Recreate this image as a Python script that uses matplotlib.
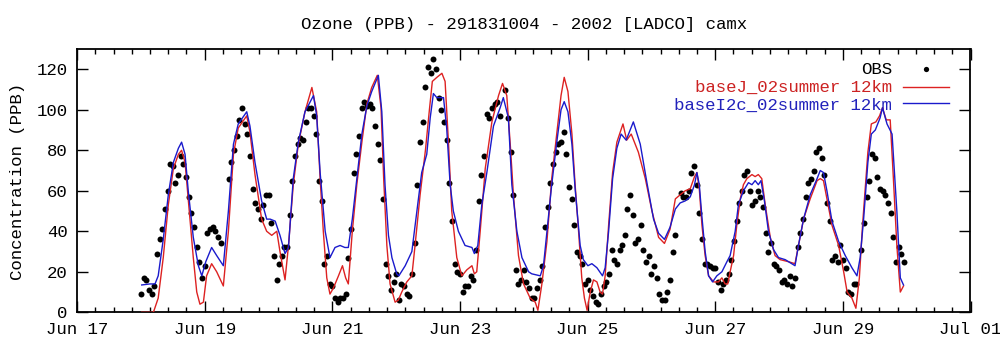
import numpy as np
import matplotlib
matplotlib.use("Agg")
import matplotlib.pyplot as plt
import matplotlib.dates as mdates
from matplotlib.ticker import FixedLocator
from datetime import datetime

title = "Ozone (PPB) - 291831004 - 2002 [LADCO] camx"
ylabel = "Concentration (PPB)"
series_names = ["OBS", "baseJ_02summer 12km", "baseI2c_02summer 12km"]
series_colors = ["#000000", "#dd2222", "#1a1acc"]
start = datetime(2002, 6, 18)          # first hour of data
x_range = (datetime(2002, 6, 17), datetime(2002, 7, 1))
y_ticks = [0, 20, 40, 60, 80, 100, 120]

N = None
# hourly observations from Jun 18 00:00 (None = missing)
obs_ppb = [
    9, 17, 16, 11, 9, 13, 29, 36, 41, 51, 60, 73, 72, 64, 68, 77, 73, 67, 57, 49, 42, 32, 25, 17,
    23, 39, 41, 42, 40, 37, 34, N, N, 66, 74, 80, 87, 95, 101, 93, 88, 77, 61, 54, 51, 46, 53, 58,
    58, 44, 28, 16, 24, 28, 32, 32, 48, 65, 77, 83, 86, 85, 94, 101, 101, 97, 88, 65, 55, 24, 28, 14,
    13, 7, 5, 7, 7, 9, 27, 41, 69, 78, 87, 101, 104, 102, 103, 101, 92, 83, 75, 56, 24, 18, 11, 15,
    19, 6, 14, 13, 9, 8, 19, 34, 63, 84, 94, 111, 121, 118, 125, 120, 106, 100, 94, 85, 64, 45, 24, 20,
    19, 10, 13, 13, 18, 16, 31, 55, 68, 77, 98, 96, 101, 103, 104, 97, N, 110, 96, 79, 58, 21, 14, 16,
    21, 15, 12, 7, 7, 12, 16, 23, 42, 52, 64, 73, 79, 83, 84, 89, 78, 62, 56, 43, 30, 28, 24, 14,
    16, 11, 8, 5, 4, 9, 13, 15, 19, 31, 26, 24, 31, 33, 38, 51, 58, 48, 34, 36, 43, 31, 25, 28,
    19, 23, 17, 9, 6, 6, 10, 16, 30, 38, N, 59, 57, 57, 60, 69, 72, 63, 49, 36, 24, 24, 23, 22,
    22, 15, 11, 14, 16, 19, 26, 35, 45, 54, 60, 68, 70, 60, 53, 55, 60, 57, 52, 39, 30, 34, 24, 23,
    21, 15, 16, 14, 18, 13, 17, 32, 39, 46, 57, 64, 66, 70, 79, 81, 76, 68, 54, 45, 26, 28, 25, 33,
    26, 22, 10, 9, 14, 14, N, 31, 44, 57, 65, 78, 76, 67, 61, 60, 58, 54, 49, 37, 25, 32, 29, 25,
]

# baseJ_02summer 12km : hours after Jun 18 00:00 and values
red_hours = [0.3, 4.7, 6.5, 8.4, 10.3, 12.2, 14.1, 15.3, 16.6, 17.8, 19.7, 21, 22.2, 23.5, 24.7, 26.6,
             28.5, 31, 32.9, 34.8, 36.6, 39.8, 41, 42.9, 45.4, 47.3, 49.2, 51.1, 52.3, 54.2, 55.5, 57.3,
             59.2, 61.7, 64.3, 66.1, 67.4, 68.6, 69.9, 71.1, 72.4, 74.3, 75.8, 77, 78, 79.5, 81.2, 83.1,
             85, 86.8, 88.9, 90.3, 91.3, 92.5, 93.7, 95.6, 96.8, 98.1, 100, 101.9, 103.1, 105, 107, 108.5,
             109.6, 111.3, 113.2, 114.4, 115.7, 116.9, 118.8, 120.7, 122.6, 124.5, 125.4, 126.3, 127.6,
             129.5, 132, 134.5, 136, 137.6, 138.9, 140.1, 142, 143.9, 146.4, 148.3, 149.3, 150.8, 152.7,
             154.5, 156.4, 158, 159.2, 160.6, 162.1, 163.3, 164.6, 165.8, 166.8, 167.8, 169, 170.2, 171.5,
             172.7, 173.6, 174.6, 175.9, 177.4, 179, 181.3, 182.7, 184.4, 187.1, 189.7, 192.2, 194.7,
             196.9, 199, 201, 202.8, 204.7, 206.6, 208.2, 209.1, 210, 211, 212.2, 213.5, 215.4, 217.2,
             218.5, 219.7, 220.7, 221.6, 222.9, 224.1, 225.4, 226.6, 227.9, 229.8, 231, 232.2, 233.5,
             234.8, 236.7, 238.5, 240.4, 243.5, 246, 247.3, 249.2, 251.7, 254.3, 255.5, 256.7, 258,
             259.9, 262.4, 264.3, 265.6, 267.4, 268.9, 270.2, 271.4, 273.4, 274.7, 276.4, 277.8, 278.9,
             280.3, 281.8, 283, 284.3, 285.6, 286.8]
red_ppb = [0, 0, 7, 27, 53, 71, 78, 80, 74, 56, 27, 10, 4, 5, 18, 24,
           20, 13, 40, 78, 91, 97, 89, 68, 46, 40, 38, 40, 30, 16, 33, 63,
           83, 99, 111, 99, 66, 40, 17, 9, 12, 18, 23, 17, 14, 40, 63, 84,
           103, 111, 117, 101, 66, 33, 14, 5, 6, 10, 15, 18, 33, 58, 80, 100,
           114, 116, 118, 114, 83, 50, 27, 18, 21, 23, 19, 20, 40,
           71, 94, 107, 113, 107, 83, 58, 28, 14, 7, 5, 1, 14, 35,
           66, 88, 107, 116, 109, 88, 63, 40, 17, 7, 1, 10, 16, 15,
           10, 9, 18, 43, 69, 84, 93, 85, 88, 79, 66, 50, 37,
           34, 41, 56, 58, 60, 61, 67, 69, 61, 43, 28, 18, 15, 15,
           17, 14, 14, 20, 28, 43, 56, 63, 66, 68, 67, 68, 66,
           53, 37, 28, 26, 25, 24, 33, 46, 56, 65, 66, 65, 56,
           43, 33, 20, 10, 7, 2, 17, 43, 79, 93, 94, 97, 101,
           95, 95, 66, 33, 10, 13]

# baseI2c_02summer 12km : hours after Jun 18 00:00 and values
blue_hours = [0.3, 3.4, 5.3, 6.5, 8.4, 10.3, 12.2, 14.1, 15.3, 16.6, 17.8, 19.7, 21.6, 22.9, 24.4, 26.6,
              28.5, 31, 32.9, 34.8, 36.6, 39.8, 41, 42.9, 45.4, 47.3, 48.6, 50.5, 52.3, 54.2, 55.5, 57.3,
              59.2, 61.7, 64.9, 66.1, 67.4, 69.3, 71.1, 73, 74.9, 76.7, 78, 79.5, 81.2, 83.1, 85, 86.8,
              89.3, 90.6, 91.8, 93.1, 94.4, 96.2, 97, 99.4, 101.9, 103.8, 105.6, 107.5, 108.8, 110, 111.3,
              113.8, 115, 116.3, 117.5, 119.4, 121.9, 124.5, 125.4, 126.7, 128.2, 130.1, 132.6, 135.1,
              136.3, 138.2, 139.5, 141.4, 143.3, 145.8, 147, 150.2, 151.4, 152.7, 154.5, 156.4, 158,
              159.2, 160.6, 162.1, 163.3, 165.2, 166.4, 168.1, 169.6, 171.5, 173.6, 174.6, 175.9, 177.4,
              179, 180.6, 182.5, 185.2, 187.8, 190.3, 192.8, 194.7, 196.9, 199, 201, 202.8, 204.7, 206.6,
              208.2, 209.1, 210, 211, 212.2, 213.5, 215, 216.6, 218.5, 220.4, 221.6, 223.5, 224.7, 226.6,
              228.5, 229.8, 231, 232.2, 233.2, 234.5, 236, 237.9, 239.8, 242.3, 246, 247.3, 249.2, 251.7,
              254.3, 255.5, 256.7, 258, 259.9, 262.4, 264.9, 267.4, 269.3, 270.5, 271.8, 273.4, 274.7,
              276.2, 278, 278.9, 280.6, 282.5, 284.3, 285.6, 286.8]
blue_ppb = [13.5, 14, 14, 18, 36, 58, 74, 81, 84, 78, 60, 37, 23, 18, 25, 32,
            28, 23, 50, 83, 93, 99, 92, 74, 55, 46, 46, 45, 38, 29, 32, 66,
            84, 99, 107, 97, 69, 40, 27, 32, 33, 32, 32, 46, 66, 88, 102, 109,
            117, 99, 63, 38, 27, 19, 18, 23, 30, 50, 69, 78, 96, 108, 106,
            106, 91, 63, 50, 40, 33, 32, 29, 33, 53, 69, 92, 101,
            106, 96, 63, 40, 27, 20, 19, 18, 23, 40, 63, 84, 100,
            104, 99, 83, 61, 33, 26, 23, 24, 22, 18, 22, 40, 66,
            81, 88, 85, 94, 83, 64, 46, 39, 36, 42, 51, 54, 55, 57,
            63, 69, 63, 47, 30, 18, 15, 18, 20, 25, 28, 40, 53, 60,
            64, 63, 65, 63, 65, 55, 40, 31, 27, 26, 23, 33, 46, 58,
            66, 70, 69, 60, 45, 35, 28, 22, 18, 27, 46, 74, 88,
            90, 96, 101, 93, 88, 50, 17, 13.5]

# ---------------------------------------------------------------------------
FONT = "Liberation Mono"
FS = 12.5
plt.rcParams["font.family"] = [FONT, "DejaVu Sans"]

t0 = mdates.date2num(start)
obs_x = t0 + np.arange(len(obs_ppb)) / 24.0
obs_y = np.array([np.nan if v is None else v for v in obs_ppb], dtype=float)
red_x = t0 + np.asarray(red_hours) / 24.0
blue_x = t0 + np.asarray(blue_hours) / 24.0

fig = plt.figure(figsize=(10.0, 3.47), dpi=100)
ax = fig.add_axes([0.0771, 0.1, 0.8934, 0.7588])

ax.plot(obs_x, obs_y, linestyle="none", marker="o", ms=4.3, mew=0,
        color=series_colors[0], zorder=2)
ax.plot(red_x, red_ppb, color=series_colors[1], lw=1.0, zorder=3)
ax.plot(blue_x, blue_ppb, color=series_colors[2], lw=1.0, zorder=4)

x0 = mdates.date2num(x_range[0])
x1 = mdates.date2num(x_range[1])
ax.set_xlim(x0, x1)
ax.set_ylim(0, 130)

ax.xaxis.set_major_locator(mdates.DayLocator(bymonthday=range(1, 32, 2)))
ax.xaxis.set_major_formatter(mdates.DateFormatter("%b %d"))
ax.xaxis.set_minor_locator(FixedLocator(np.arange(x0, x1 + 1e-6, 2.0 / 7.0)))
ax.set_yticks(y_ticks)
ax.set_yticklabels([str(v) for v in y_ticks])

ax.tick_params(which="major", direction="in", length=8, width=1.0,
               top=True, right=True, labelsize=FS, pad=7, colors="black")
ax.tick_params(which="minor", direction="in", length=3.5, width=1.0,
               top=True, bottom=True)
for lab in ax.get_xticklabels() + ax.get_yticklabels():
    lab.set_fontfamily(FONT)
for sp in ax.spines.values():
    sp.set_linewidth(1.3)

fig.text(0.5238, 1 - 24 / 347, title, ha="center", va="center",
         fontsize=FS, family=FONT)
fig.text(0.018, 1 - 181 / 347, ylabel, rotation=90, ha="center", va="center",
         fontsize=FS, family=FONT)

# gnuplot-style key: right-aligned text followed by sample
text_colors = ["#000000", "#cc2222", "#2222bb"]
text_base = [0.905, 0.8355, 0.768]
sample_y = [0.924, 0.856, 0.794]
for i, name in enumerate(series_names):
    ax.text(0.9121, text_base[i], name, transform=ax.transAxes, ha="right",
            va="baseline", fontsize=FS, family=FONT, color=text_colors[i], zorder=1)
    if i == 0:
        ax.plot([0.950], [sample_y[i]], transform=ax.transAxes, marker="o",
                ms=3.8, mew=0, color=series_colors[0], clip_on=False)
    else:
        ax.plot([0.924, 0.976], [sample_y[i], sample_y[i]], transform=ax.transAxes,
                color=series_colors[i], lw=1.0, clip_on=False, zorder=5)

fig.savefig("out.png", dpi=100)
